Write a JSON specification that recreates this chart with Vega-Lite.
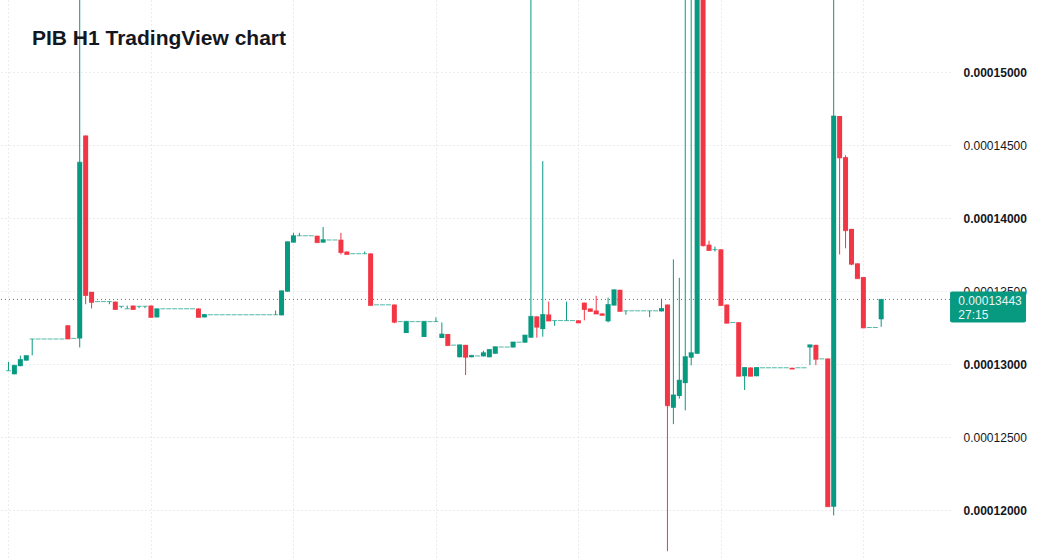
{
"$schema": "https://vega.github.io/schema/vega-lite/v6.json",
"width": 950, "height": 560,
"autosize": "none",
"padding": {"left": 0, "top": 0, "right": 87, "bottom": 0},
"background": "#ffffff",
"config": {"view": {"stroke": null}, "font": "Liberation Sans"},
"title": {"text": "PIB H1 TradingView chart", "anchor": "start", "frame": "group", "orient": "none", "font": "Liberation Sans", "fontSize": 21, "fontWeight": "bold", "color": "#131722", "offset": 0, "dx": 32, "dy": 45, "baseline": "alphabetic"},
"data": {"values": [
{"i":0,"o":0.00012955,"h":0.00013015,"l":0.00012955,"c":0.00012955},
{"i":1,"o":0.00012930,"h":0.00012993,"l":0.00012930,"c":0.00012993},
{"i":2,"o":0.00012986,"h":0.00013058,"l":0.00012986,"c":0.00013031},
{"i":3,"o":0.00013024,"h":0.00013058,"l":0.00013024,"c":0.00013058},
{"i":4,"o":0.00013172,"h":0.00013172,"l":0.00013060,"c":0.00013172},
{"i":5,"o":0.00013172,"h":0.00013172,"l":0.00013172,"c":0.00013172},
{"i":6,"o":0.00013172,"h":0.00013172,"l":0.00013172,"c":0.00013172},
{"i":7,"o":0.00013172,"h":0.00013172,"l":0.00013172,"c":0.00013172},
{"i":8,"o":0.00013172,"h":0.00013172,"l":0.00013172,"c":0.00013172},
{"i":9,"o":0.00013172,"h":0.00013172,"l":0.00013172,"c":0.00013172},
{"i":10,"o":0.00013266,"h":0.00013266,"l":0.00013172,"c":0.00013172},
{"i":11,"o":0.00013176,"h":0.00013176,"l":0.00013176,"c":0.00013176},
{"i":12,"o":0.00013176,"h":0.00016000,"l":0.00013114,"c":0.00014383},
{"i":13,"o":0.00014565,"h":0.00014565,"l":0.00013410,"c":0.00013470},
{"i":14,"o":0.00013495,"h":0.00013495,"l":0.00013381,"c":0.00013423},
{"i":15,"o":0.00013428,"h":0.00013428,"l":0.00013428,"c":0.00013428},
{"i":16,"o":0.00013428,"h":0.00013428,"l":0.00013428,"c":0.00013428},
{"i":17,"o":0.00013428,"h":0.00013428,"l":0.00013410,"c":0.00013428},
{"i":18,"o":0.00013428,"h":0.00013428,"l":0.00013374,"c":0.00013374},
{"i":19,"o":0.00013396,"h":0.00013396,"l":0.00013383,"c":0.00013396},
{"i":20,"o":0.00013379,"h":0.00013401,"l":0.00013379,"c":0.00013379},
{"i":21,"o":0.00013401,"h":0.00013401,"l":0.00013374,"c":0.00013374},
{"i":22,"o":0.00013396,"h":0.00013396,"l":0.00013383,"c":0.00013396},
{"i":23,"o":0.00013396,"h":0.00013396,"l":0.00013383,"c":0.00013396},
{"i":24,"o":0.00013401,"h":0.00013401,"l":0.00013320,"c":0.00013320},
{"i":25,"o":0.00013320,"h":0.00013379,"l":0.00013320,"c":0.00013379},
{"i":26,"o":0.00013379,"h":0.00013379,"l":0.00013379,"c":0.00013379},
{"i":27,"o":0.00013379,"h":0.00013379,"l":0.00013379,"c":0.00013379},
{"i":28,"o":0.00013379,"h":0.00013379,"l":0.00013379,"c":0.00013379},
{"i":29,"o":0.00013379,"h":0.00013379,"l":0.00013379,"c":0.00013379},
{"i":30,"o":0.00013379,"h":0.00013379,"l":0.00013379,"c":0.00013379},
{"i":31,"o":0.00013379,"h":0.00013379,"l":0.00013379,"c":0.00013379},
{"i":32,"o":0.00013381,"h":0.00013381,"l":0.00013320,"c":0.00013320},
{"i":33,"o":0.00013320,"h":0.00013340,"l":0.00013320,"c":0.00013340},
{"i":34,"o":0.00013338,"h":0.00013338,"l":0.00013338,"c":0.00013338},
{"i":35,"o":0.00013338,"h":0.00013338,"l":0.00013338,"c":0.00013338},
{"i":36,"o":0.00013338,"h":0.00013338,"l":0.00013338,"c":0.00013338},
{"i":37,"o":0.00013338,"h":0.00013338,"l":0.00013338,"c":0.00013338},
{"i":38,"o":0.00013338,"h":0.00013338,"l":0.00013338,"c":0.00013338},
{"i":39,"o":0.00013338,"h":0.00013338,"l":0.00013338,"c":0.00013338},
{"i":40,"o":0.00013338,"h":0.00013338,"l":0.00013338,"c":0.00013338},
{"i":41,"o":0.00013338,"h":0.00013338,"l":0.00013338,"c":0.00013338},
{"i":42,"o":0.00013338,"h":0.00013338,"l":0.00013338,"c":0.00013338},
{"i":43,"o":0.00013338,"h":0.00013338,"l":0.00013338,"c":0.00013338},
{"i":44,"o":0.00013338,"h":0.00013338,"l":0.00013338,"c":0.00013338},
{"i":45,"o":0.00013338,"h":0.00013367,"l":0.00013338,"c":0.00013338},
{"i":46,"o":0.00013334,"h":0.00013502,"l":0.00013334,"c":0.00013502},
{"i":47,"o":0.00013496,"h":0.00013838,"l":0.00013496,"c":0.00013838},
{"i":48,"o":0.00013832,"h":0.00013899,"l":0.00013832,"c":0.00013879},
{"i":49,"o":0.00013879,"h":0.00013899,"l":0.00013879,"c":0.00013879},
{"i":50,"o":0.00013879,"h":0.00013879,"l":0.00013879,"c":0.00013879},
{"i":51,"o":0.00013879,"h":0.00013879,"l":0.00013879,"c":0.00013879},
{"i":52,"o":0.00013879,"h":0.00013879,"l":0.00013832,"c":0.00013832},
{"i":53,"o":0.00013832,"h":0.00013939,"l":0.00013832,"c":0.00013852},
{"i":54,"o":0.00013850,"h":0.00013850,"l":0.00013850,"c":0.00013850},
{"i":55,"o":0.00013850,"h":0.00013850,"l":0.00013850,"c":0.00013850},
{"i":56,"o":0.00013852,"h":0.00013899,"l":0.00013751,"c":0.00013764},
{"i":57,"o":0.00013771,"h":0.00013771,"l":0.00013751,"c":0.00013751},
{"i":58,"o":0.00013756,"h":0.00013756,"l":0.00013756,"c":0.00013756},
{"i":59,"o":0.00013756,"h":0.00013756,"l":0.00013756,"c":0.00013756},
{"i":60,"o":0.00013756,"h":0.00013771,"l":0.00013756,"c":0.00013756},
{"i":61,"o":0.00013758,"h":0.00013758,"l":0.00013401,"c":0.00013401},
{"i":62,"o":0.00013406,"h":0.00013406,"l":0.00013406,"c":0.00013406},
{"i":63,"o":0.00013406,"h":0.00013406,"l":0.00013406,"c":0.00013406},
{"i":64,"o":0.00013406,"h":0.00013406,"l":0.00013406,"c":0.00013406},
{"i":65,"o":0.00013408,"h":0.00013408,"l":0.00013280,"c":0.00013287},
{"i":66,"o":0.00013291,"h":0.00013291,"l":0.00013291,"c":0.00013291},
{"i":67,"o":0.00013213,"h":0.00013293,"l":0.00013213,"c":0.00013293},
{"i":68,"o":0.00013291,"h":0.00013291,"l":0.00013291,"c":0.00013291},
{"i":69,"o":0.00013291,"h":0.00013291,"l":0.00013291,"c":0.00013291},
{"i":70,"o":0.00013186,"h":0.00013293,"l":0.00013186,"c":0.00013293},
{"i":71,"o":0.00013291,"h":0.00013291,"l":0.00013291,"c":0.00013291},
{"i":72,"o":0.00013291,"h":0.00013320,"l":0.00013291,"c":0.00013291},
{"i":73,"o":0.00013179,"h":0.00013285,"l":0.00013179,"c":0.00013206},
{"i":74,"o":0.00013206,"h":0.00013206,"l":0.00013127,"c":0.00013127},
{"i":75,"o":0.00013130,"h":0.00013130,"l":0.00013130,"c":0.00013130},
{"i":76,"o":0.00013047,"h":0.00013132,"l":0.00013047,"c":0.00013132},
{"i":77,"o":0.00013132,"h":0.00013132,"l":0.00012925,"c":0.00013047},
{"i":78,"o":0.00013047,"h":0.00013060,"l":0.00013047,"c":0.00013060},
{"i":79,"o":0.00013056,"h":0.00013056,"l":0.00013056,"c":0.00013056},
{"i":80,"o":0.00013053,"h":0.00013092,"l":0.00013053,"c":0.00013078},
{"i":81,"o":0.00013047,"h":0.00013100,"l":0.00013047,"c":0.00013100},
{"i":82,"o":0.00013071,"h":0.00013119,"l":0.00013071,"c":0.00013119},
{"i":83,"o":0.00013117,"h":0.00013117,"l":0.00013117,"c":0.00013117},
{"i":84,"o":0.00013117,"h":0.00013117,"l":0.00013117,"c":0.00013117},
{"i":85,"o":0.00013114,"h":0.00013152,"l":0.00013114,"c":0.00013152},
{"i":86,"o":0.00013150,"h":0.00013150,"l":0.00013150,"c":0.00013150},
{"i":87,"o":0.00013147,"h":0.00013199,"l":0.00013147,"c":0.00013199},
{"i":88,"o":0.00013181,"h":0.00016000,"l":0.00013181,"c":0.00013327},
{"i":89,"o":0.00013327,"h":0.00013327,"l":0.00013181,"c":0.00013253},
{"i":90,"o":0.00013240,"h":0.00014390,"l":0.00013188,"c":0.00013340},
{"i":91,"o":0.00013340,"h":0.00013428,"l":0.00013295,"c":0.00013295},
{"i":92,"o":0.00013298,"h":0.00013298,"l":0.00013262,"c":0.00013298},
{"i":93,"o":0.00013298,"h":0.00013298,"l":0.00013298,"c":0.00013298},
{"i":94,"o":0.00013298,"h":0.00013428,"l":0.00013298,"c":0.00013298},
{"i":95,"o":0.00013298,"h":0.00013298,"l":0.00013298,"c":0.00013298},
{"i":96,"o":0.00013300,"h":0.00013300,"l":0.00013282,"c":0.00013282},
{"i":97,"o":0.00013421,"h":0.00013421,"l":0.00013300,"c":0.00013374},
{"i":98,"o":0.00013381,"h":0.00013381,"l":0.00013361,"c":0.00013361},
{"i":99,"o":0.00013367,"h":0.00013468,"l":0.00013343,"c":0.00013343},
{"i":100,"o":0.00013347,"h":0.00013347,"l":0.00013334,"c":0.00013334},
{"i":101,"o":0.00013293,"h":0.00013455,"l":0.00013286,"c":0.00013408},
{"i":102,"o":0.00013401,"h":0.00013509,"l":0.00013401,"c":0.00013509},
{"i":103,"o":0.00013509,"h":0.00013509,"l":0.00013361,"c":0.00013361},
{"i":104,"o":0.00013365,"h":0.00013365,"l":0.00013338,"c":0.00013365},
{"i":105,"o":0.00013365,"h":0.00013365,"l":0.00013365,"c":0.00013365},
{"i":106,"o":0.00013365,"h":0.00013365,"l":0.00013365,"c":0.00013365},
{"i":107,"o":0.00013365,"h":0.00013365,"l":0.00013365,"c":0.00013365},
{"i":108,"o":0.00013365,"h":0.00013365,"l":0.00013322,"c":0.00013365},
{"i":109,"o":0.00013365,"h":0.00013365,"l":0.00013365,"c":0.00013365},
{"i":110,"o":0.00013361,"h":0.00013448,"l":0.00013361,"c":0.00013381},
{"i":111,"o":0.00013408,"h":0.00013408,"l":0.00011719,"c":0.00012715},
{"i":112,"o":0.00012701,"h":0.00013717,"l":0.00012589,"c":0.00012789},
{"i":113,"o":0.00012782,"h":0.00013591,"l":0.00012764,"c":0.00012890},
{"i":114,"o":0.00012870,"h":0.00016000,"l":0.00012683,"c":0.00013051},
{"i":115,"o":0.00013044,"h":0.00016000,"l":0.00012991,"c":0.00013078},
{"i":116,"o":0.00013071,"h":0.00016000,"l":0.00013071,"c":0.00015800},
{"i":117,"o":0.00015800,"h":0.00016000,"l":0.00013805,"c":0.00013811},
{"i":118,"o":0.00013818,"h":0.00013845,"l":0.00013778,"c":0.00013778},
{"i":119,"o":0.00013784,"h":0.00013805,"l":0.00013771,"c":0.00013784},
{"i":120,"o":0.00013786,"h":0.00013786,"l":0.00013401,"c":0.00013401},
{"i":121,"o":0.00013408,"h":0.00013408,"l":0.00013280,"c":0.00013280},
{"i":122,"o":0.00013285,"h":0.00013285,"l":0.00013285,"c":0.00013285},
{"i":123,"o":0.00013287,"h":0.00013287,"l":0.00012917,"c":0.00012917},
{"i":124,"o":0.00012917,"h":0.00012977,"l":0.00012823,"c":0.00012977},
{"i":125,"o":0.00012977,"h":0.00012977,"l":0.00012917,"c":0.00012917},
{"i":126,"o":0.00012917,"h":0.00012977,"l":0.00012917,"c":0.00012977},
{"i":127,"o":0.00012975,"h":0.00012975,"l":0.00012975,"c":0.00012975},
{"i":128,"o":0.00012975,"h":0.00012975,"l":0.00012975,"c":0.00012975},
{"i":129,"o":0.00012975,"h":0.00012975,"l":0.00012975,"c":0.00012975},
{"i":130,"o":0.00012975,"h":0.00012975,"l":0.00012975,"c":0.00012975},
{"i":131,"o":0.00012975,"h":0.00012975,"l":0.00012975,"c":0.00012975},
{"i":132,"o":0.00012975,"h":0.00012975,"l":0.00012966,"c":0.00012966},
{"i":133,"o":0.00012975,"h":0.00012975,"l":0.00012975,"c":0.00012975},
{"i":134,"o":0.00012975,"h":0.00012975,"l":0.00012975,"c":0.00012975},
{"i":135,"o":0.00013114,"h":0.00013132,"l":0.00012993,"c":0.00013132},
{"i":136,"o":0.00013132,"h":0.00013132,"l":0.00012993,"c":0.00013033},
{"i":137,"o":0.00013036,"h":0.00013036,"l":0.00013036,"c":0.00013036},
{"i":138,"o":0.00013038,"h":0.00013038,"l":0.00012024,"c":0.00012024},
{"i":139,"o":0.00012024,"h":0.00016000,"l":0.00011964,"c":0.00014699},
{"i":140,"o":0.00014699,"h":0.00014699,"l":0.00013751,"c":0.00014412},
{"i":141,"o":0.00014417,"h":0.00014430,"l":0.00013793,"c":0.00013914},
{"i":142,"o":0.00013926,"h":0.00013926,"l":0.00013677,"c":0.00013684},
{"i":143,"o":0.00013690,"h":0.00013690,"l":0.00013585,"c":0.00013585},
{"i":144,"o":0.00013596,"h":0.00013596,"l":0.00013248,"c":0.00013248},
{"i":145,"o":0.00013251,"h":0.00013251,"l":0.00013251,"c":0.00013251},
{"i":146,"o":0.00013251,"h":0.00013251,"l":0.00013251,"c":0.00013251},
{"i":147,"o":0.00013307,"h":0.00013443,"l":0.00013255,"c":0.00013443}
]},
"encoding": {
  "x": {"field": "i", "type": "quantitative", "title": null,
    "scale": {"domain": [-0.5833, 157.75], "nice": false, "zero": false},
    "axis": {"values": [0, 24, 48, 72, 96, 120, 144], "labels": false, "ticks": false, "domain": false, "grid": true, "gridColor": "#d6d9de", "gridDash": [1, 3], "gridWidth": 1, "orient": "bottom"}}
},
"layer": [
  {"mark": {"type": "rule", "clip": true, "strokeWidth": 1},
   "encoding": {
     "y": {"field": "l", "type": "quantitative", "title": null,
       "scale": {"domain": [0.00011693, 0.00015459], "nice": false, "zero": false},
       "axis": {"orient": "right", "values": [0.00012, 0.000125, 0.00013, 0.000135, 0.00014, 0.000145, 0.00015], "format": ".8f", "ticks": false, "tickSize": 0, "domain": false, "labelPadding": 13, "labelAlign": "left", "labelFont": "Liberation Sans", "labelFontSize": 12, "labelColor": "#131722", "labelFontWeight": {"expr": "round(datum.value*200000) % 2 === 0 ? 'bold' : 'normal'"}, "grid": true, "gridColor": "#d6d9de", "gridDash": [1, 3], "gridWidth": 1}},
     "y2": {"field": "h"},
     "color": {"condition": {"test": "datum.c >= datum.o", "value": "#089981"}, "value": "#f23645"}}},
  {"mark": {"type": "bar", "clip": true, "width": 5},
   "encoding": {"y": {"field": "o", "type": "quantitative", "title": null}, "y2": {"field": "c"},
     "color": {"condition": {"test": "datum.c >= datum.o", "value": "#089981"}, "value": "#f23645"}}},
  {"mark": {"type": "tick", "clip": true, "orient": "horizontal", "size": 5, "thickness": 1},
   "encoding": {"y": {"field": "c", "type": "quantitative", "title": null},
     "color": {"condition": {"test": "datum.c >= datum.o", "value": "#089981"}, "value": "#f23645"}}},
  {"transform": [{"filter": "datum.i == 147"}],
   "mark": {"type": "rule", "strokeDash": [1, 3], "strokeWidth": 1, "stroke": "#089981"},
   "encoding": {"y": {"field": "c", "type": "quantitative", "title": null}, "x": null}},
  {"transform": [{"filter": "datum.i == 147"}],
   "mark": {"type": "bar", "clip": false, "height": 31, "yOffset": 7.5, "cornerRadius": 2, "orient": "horizontal", "fill": "#089981"},
   "encoding": {"x": {"datum": 158.6}, "x2": {"datum": 171.4}, "y": {"field": "c", "type": "quantitative", "title": null}}},
  {"transform": [{"filter": "datum.i == 147"}],
   "mark": {"type": "text", "clip": false, "align": "left", "baseline": "middle", "yOffset": 1.5, "font": "Liberation Sans", "fontSize": 12, "fill": "#e8f5f2"},
   "encoding": {"x": {"datum": 160}, "y": {"field": "c", "type": "quantitative", "title": null}, "text": {"field": "c", "type": "quantitative", "format": ".8f"}}},
  {"transform": [{"filter": "datum.i == 147"}],
   "mark": {"type": "text", "clip": false, "align": "left", "baseline": "middle", "yOffset": 15.5, "font": "Liberation Sans", "fontSize": 12, "text": "27:15", "fill": "#e8f5f2"},
   "encoding": {"x": {"datum": 160}, "y": {"field": "c", "type": "quantitative", "title": null}}}
]
}
